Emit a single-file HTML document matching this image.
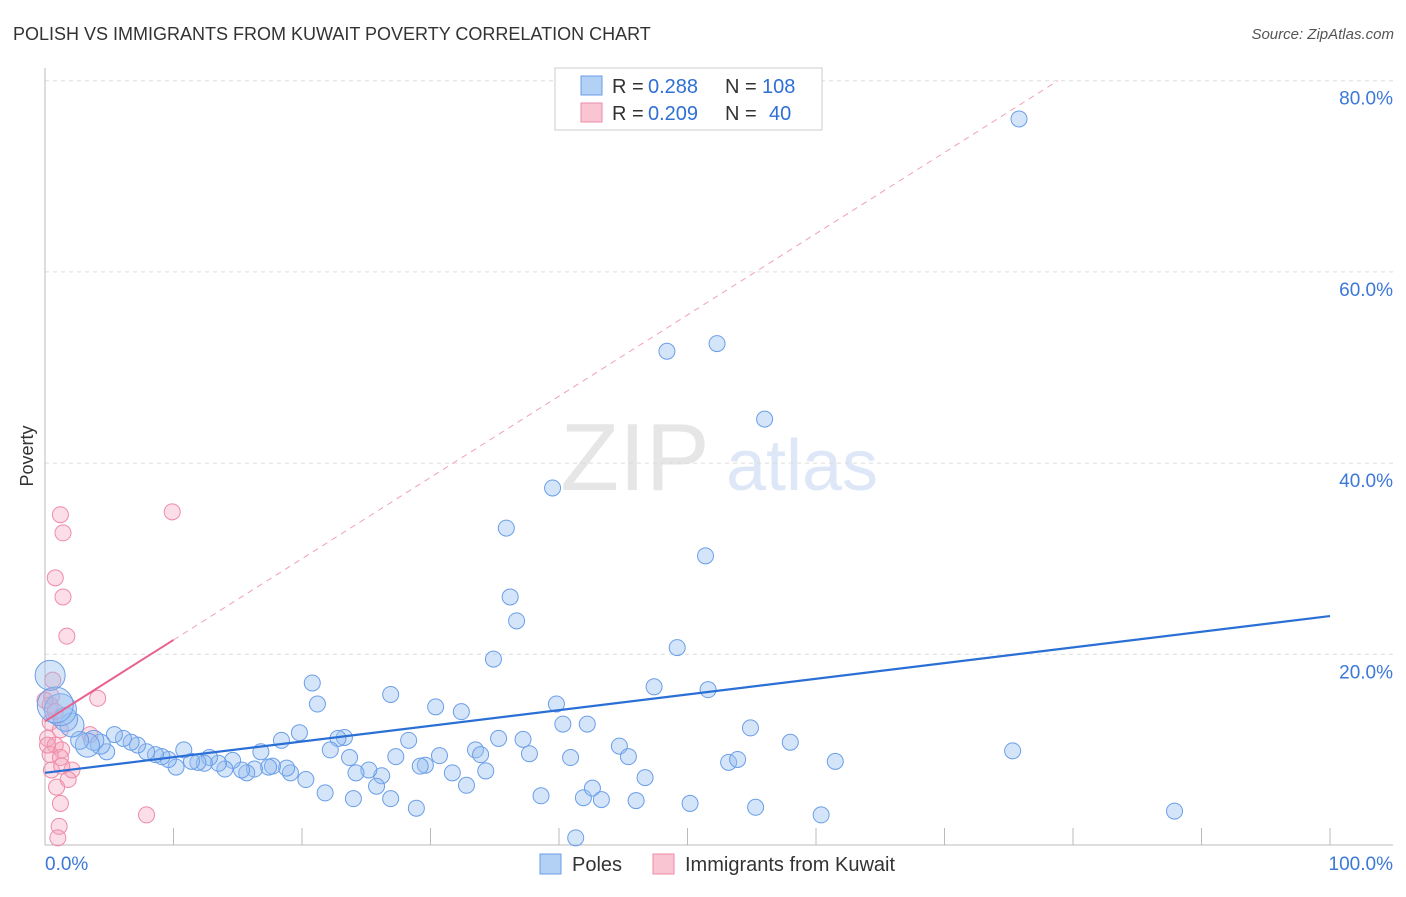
<!DOCTYPE html>
<html><head><meta charset="utf-8">
<style>
body{margin:0;background:#fff;font-family:"Liberation Sans",sans-serif;}
svg text{font-family:"Liberation Sans",sans-serif;}
</style></head>
<body>
<svg id="chart" width="1406" height="892" viewBox="0 0 1406 892" xmlns="http://www.w3.org/2000/svg">
<text x="13" y="40" font-size="18" fill="#333">POLISH VS IMMIGRANTS FROM KUWAIT POVERTY CORRELATION CHART</text>
<text x="1394" y="39" font-size="15" fill="#555" text-anchor="end" font-style="italic">Source: ZipAtlas.com</text>
<text transform="translate(33,456) rotate(-90)" font-size="18" fill="#333" text-anchor="middle">Poverty</text>
<g opacity="0.18">
<text x="635" y="490" font-size="96" font-family="Liberation Serif" fill="#777" text-anchor="middle">ZIP</text>
<text x="802" y="490" font-size="72" fill="#4a7fd4" text-anchor="middle">atlas</text>
</g>
<g id="grid"></g>
<g id="axes"></g>
<g id="marks"></g>
<g>
<rect x="555" y="68" width="267" height="62" fill="#fff" stroke="#ccc"/>
<rect x="581" y="76" width="21" height="19" fill="#b3d0f5" stroke="#6a9ee8"/>
<rect x="581" y="103" width="21" height="19" fill="#f9c5d3" stroke="#ee8ba8"/>
<text x="612" y="93" font-size="20" fill="#333">R =</text>
<text x="648" y="93" font-size="20" fill="#2f6fd6">0.288</text>
<text x="725" y="93" font-size="20" fill="#333">N =</text>
<text x="762" y="93" font-size="20" fill="#2f6fd6">108</text>
<text x="612" y="120" font-size="20" fill="#333">R =</text>
<text x="648" y="120" font-size="20" fill="#2f6fd6">0.209</text>
<text x="725" y="120" font-size="20" fill="#333">N =</text>
<text x="769" y="120" font-size="20" fill="#2f6fd6">40</text>
</g>
<g>
<rect x="540" y="854" width="21" height="20" fill="#b3d0f5" stroke="#6a9ee8"/>
<text x="572" y="871" font-size="20" fill="#333">Poles</text>
<rect x="653" y="854" width="21" height="20" fill="#f9c5d3" stroke="#ee8ba8"/>
<text x="685" y="871" font-size="20" fill="#333">Immigrants from Kuwait</text>
</g>
</svg>
<script>
const yTicks=[20,40,60,80];
const yTickLabels=["20.0%","40.0%","60.0%","80.0%"];
const xTicks=[0,10,20,30,40,50,60,70,80,90,100];
const xLabels=["0.0%","100.0%"];
const polesX=[75.8,48.4,52.3,56.0,39.5,35.9,51.4,36.2,36.7,34.9,49.2,20.8,26.9,21.2,30.4,32.4,39.8,47.4,51.6,40.3,42.2,54.9,58.0,75.3,61.5,53.2,53.9,44.7,45.4,46.7,40.9,37.7,37.2,35.3,33.5,33.9,34.3,31.7,32.8,30.7,29.6,29.2,28.3,27.3,26.2,25.8,25.2,24.2,23.7,23.3,22.8,22.2,21.8,20.3,19.8,19.1,18.8,18.4,17.7,17.4,16.8,16.3,15.7,15.3,14.6,14.0,13.5,12.8,12.4,11.9,11.4,10.8,10.2,9.6,9.1,8.6,7.9,7.2,6.7,6.1,5.4,4.8,4.3,3.8,3.3,2.7,2.1,1.6,1.2,0.8,0.4,24.0,26.9,28.9,38.6,41.9,42.6,43.3,46.0,50.2,55.3,60.4,41.3,87.9];
const polesY=[76.0,51.7,52.5,44.6,37.4,33.2,30.3,26.0,23.5,19.5,20.7,17.0,15.8,14.8,14.5,14.0,14.8,16.6,16.3,12.7,12.7,12.3,10.8,9.9,8.8,8.7,9.0,10.4,9.3,7.1,9.2,9.6,11.1,11.2,10.0,9.5,7.8,7.6,6.3,9.4,8.4,8.3,11.0,9.3,7.3,6.2,7.9,7.6,9.2,11.3,11.2,10.0,5.5,6.9,11.8,7.6,8.1,11.0,8.3,8.2,9.8,8.0,7.6,7.9,8.9,8.0,8.6,9.2,8.6,8.7,8.8,10.0,8.2,9.0,9.3,9.5,9.8,10.5,10.8,11.2,11.6,9.8,10.6,11.0,10.5,11.0,12.6,13.2,14.2,14.7,17.8,4.9,4.9,3.9,5.2,5.0,6.0,4.8,4.7,4.4,4.0,3.2,0.8,3.6];
const polesR=[8,8,8,8,8,8,8,8,8,8,8,8,8,8,8,8,8,8,8,8,8,8,8,8,8,8,8,8,8,8,8,8,8,8,8,8,8,8,8,8,8,8,8,8,8,8,8,8,8,8,8,8,8,8,8,8,8,8,8,8,8,8,8,8,8,8,8,8,8,8,8,8,8,8,8,8,8,8,8,8,8,8,10,10,12,9,12,12,16,18,15,8,8,8,8,8,8,8,8,8,8,8,8,8];
const kuwaitX=[1.2,1.4,9.9,0.8,1.4,1.7,4.1,0.6,0.5,0.4,0.8,0.4,1.2,0.2,0.8,1.3,0.4,1.2,0.5,2.1,1.8,0.9,1.2,7.9,1.1,1.0,3.5,0.0,1.3,0.2];
const kuwaitY=[34.6,32.7,34.9,28.0,26.0,21.9,15.4,17.3,15.6,14.7,14.0,12.9,12.1,11.2,10.5,10.0,9.5,9.2,7.9,7.9,6.9,6.1,4.4,3.2,2.0,0.8,11.6,15.2,8.3,10.5];
const polesLine=[7.6,24.0];
const kuwaitLine=[13.0,0.85];
const NS="http://www.w3.org/2000/svg";
const X=v=>45+v*12.85, Y=v=>845.5-v*9.56;
function mk(tag,attrs,parent){const e=document.createElementNS(NS,tag);for(const k in attrs)e.setAttribute(k,attrs[k]);parent.appendChild(e);return e;}
const grid=document.getElementById('grid'),axes=document.getElementById('axes'),marks=document.getElementById('marks');
yTicks.forEach((t,i)=>{
 const l=mk('line',{x1:45,x2:1393,y1:Y(t),y2:Y(t),stroke:'#ddd','stroke-dasharray':'4,4'},grid);
 
 
 const tx=mk('text',{x:1393,y:Y(t)+24,'font-size':19,fill:'#3b78d8','text-anchor':'end'},axes);
 tx.textContent=yTickLabels[i];
 
 
});
const al=mk('line',{x1:45,x2:45,y1:68,y2:845,stroke:'#bbb'},axes);


const bl=mk('line',{x1:45,x2:1393,y1:845,y2:845,stroke:'#bbb'},axes);


xTicks.forEach(t=>{
 const l=mk('line',{x1:X(t),x2:X(t),y1:828,y2:845,stroke:'#bbb'},axes);
 
 
});
[[0,'start',45],[100,'end',1393]].forEach((a,i)=>{
 const tx=mk('text',{x:a[2],y:870,'font-size':19,fill:'#3b78d8','text-anchor':a[1]},axes);
 tx.textContent=xLabels[i];
 
 
});
kuwaitX.forEach((x,i)=>{
 const c=mk('circle',{cx:X(x),cy:Y(kuwaitY[i]),r:8,fill:'rgba(244,160,185,0.35)',stroke:'#ee8ba8','stroke-width':1},marks);
 
 
});
polesX.forEach((x,i)=>{
 const c=mk('circle',{cx:X(x),cy:Y(polesY[i]),r:polesR[i],fill:'rgba(150,190,240,0.4)',stroke:'#6a9ee8','stroke-width':1},marks);
 
 
});
const xEnd=(80-kuwaitLine[0])/kuwaitLine[1];
const kd=mk('line',{x1:X(10),y1:Y(kuwaitLine[0]+10*kuwaitLine[1]),x2:X(xEnd),y2:Y(80),stroke:'#f0a0b8','stroke-width':1,'stroke-dasharray':'6,5'},marks);


const kl=mk('line',{x1:X(0),y1:Y(kuwaitLine[0]),x2:X(10),y2:Y(kuwaitLine[0]+10*kuwaitLine[1]),stroke:'#e8628f','stroke-width':2},marks);


const pl=mk('line',{x1:X(0),y1:Y(polesLine[0]),x2:X(100),y2:Y(polesLine[1]),stroke:'#2a6fd6','stroke-width':2.2},marks);


</script>
</body></html>
